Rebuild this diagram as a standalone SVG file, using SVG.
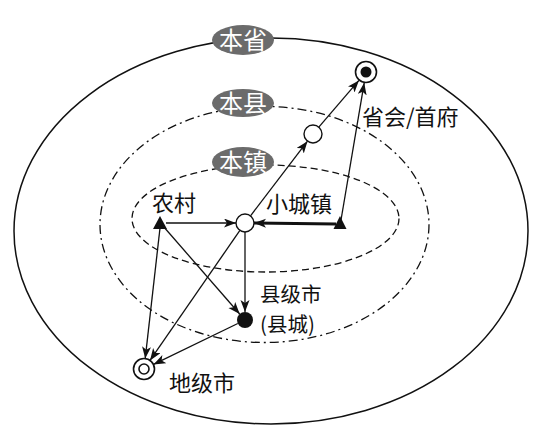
<svg xmlns="http://www.w3.org/2000/svg" width="547" height="435" viewBox="0 0 547 435">
<style>
.ring{fill:none;stroke:#111;stroke-width:1.5}
.mid{fill:none;stroke:#111;stroke-width:1.3;stroke-dasharray:9 4 2 4}
.inner{fill:none;stroke:#111;stroke-width:1.3;stroke-dasharray:7 4}
.badge{fill:#6b6b6b}
.bt{font-family:"Noto Sans CJK SC",sans-serif;font-size:24px;fill:#fff;text-anchor:middle}
.lbl{font-family:"Noto Sans CJK SC",sans-serif;font-size:22px;fill:#111}
.lbl2{font-family:"Noto Sans CJK SC",sans-serif;font-size:20.5px;fill:#111}
.c{stroke:#111;stroke-width:1.3;fill:none;marker-end:url(#ah)}
.thick{stroke:#111;stroke-width:3;fill:none;marker-end:url(#ah)}
</style>
<defs>
<marker id="ah" markerUnits="userSpaceOnUse" markerWidth="14" markerHeight="10" refX="12" refY="4.5" orient="auto">
<path d="M0,0 L12,4.5 L0,9 L3,4.5 z" fill="#111"/>
</marker>
</defs>
<rect width="547" height="435" fill="#fff"/>
<g id="regions">
<ellipse class="ring" cx="271" cy="231" rx="257" ry="193"/>
<ellipse class="mid" cx="264.5" cy="224.5" rx="164.5" ry="118"/>
<ellipse class="inner" cx="265.5" cy="218.5" rx="133.5" ry="53.5"/>
</g>
<g id="badge-province"><ellipse class="badge" cx="243" cy="40" rx="31" ry="15"/><text class="bt" x="243" y="48.5">本省</text></g>
<g id="badge-county"><ellipse class="badge" cx="243" cy="103" rx="31" ry="14"/><text class="bt" x="243" y="111.5">本县</text></g>
<g id="badge-town"><ellipse class="badge" cx="243" cy="162" rx="31" ry="15"/><text class="bt" x="243" y="170.5">本镇</text></g>
<g id="connectors">
<line class="c" x1="250.5" y1="215.8" x2="307.5" y2="141.2"/>
<line class="c" x1="318.8" y1="127.2" x2="358.9" y2="80.4"/>
<line class="c" x1="341" y1="220" x2="364.2" y2="82.8"/>
<line class="thick" x1="336" y1="224" x2="254" y2="223"/>
<line class="c" x1="166" y1="223" x2="236" y2="223"/>
<line class="c" x1="245" y1="232" x2="245" y2="312"/>
<line class="c" x1="163" y1="226" x2="239.7" y2="314"/>
<line class="c" x1="160" y1="228" x2="145.2" y2="358.6"/>
<line class="c" x1="239.9" y1="230.4" x2="150" y2="360.4"/>
<line class="c" x1="237.8" y1="323.5" x2="153.5" y2="364.4"/>
</g>
<g id="node-capital">
<circle cx="366" cy="72" r="10.5" fill="#fff" stroke="#111" stroke-width="1.6"/>
<circle cx="366" cy="72" r="5.5" fill="#111"/>
<text class="lbl" x="362" y="125">省会/首府</text>
</g>
<g id="node-mid"><circle cx="313" cy="134" r="9" fill="#fff" stroke="#111" stroke-width="1.4"/></g>
<g id="node-town">
<circle cx="245" cy="223" r="9" fill="#fff" stroke="#111" stroke-width="1.4"/>
<text class="lbl" x="266" y="212">小城镇</text>
</g>
<g id="node-town-src"><path d="M340,216 L346.5,229 L333.5,229 z" fill="#111"/></g>
<g id="node-village">
<path d="M160,216 L167,229 L153,229 z" fill="#111"/>
<text class="lbl" x="152" y="211">农村</text>
</g>
<g id="node-county">
<circle cx="245" cy="320" r="8" fill="#111"/>
<text class="lbl2" x="260" y="302">县级市</text>
<text class="lbl2" x="260" y="332">(县城)</text>
</g>
<g id="node-prefecture">
<circle cx="144" cy="369" r="10.5" fill="#fff" stroke="#111" stroke-width="1.6"/>
<circle cx="144" cy="369" r="5" fill="#fff" stroke="#111" stroke-width="1.6"/>
<text class="lbl" x="169" y="391">地级市</text>
</g>
</svg>
